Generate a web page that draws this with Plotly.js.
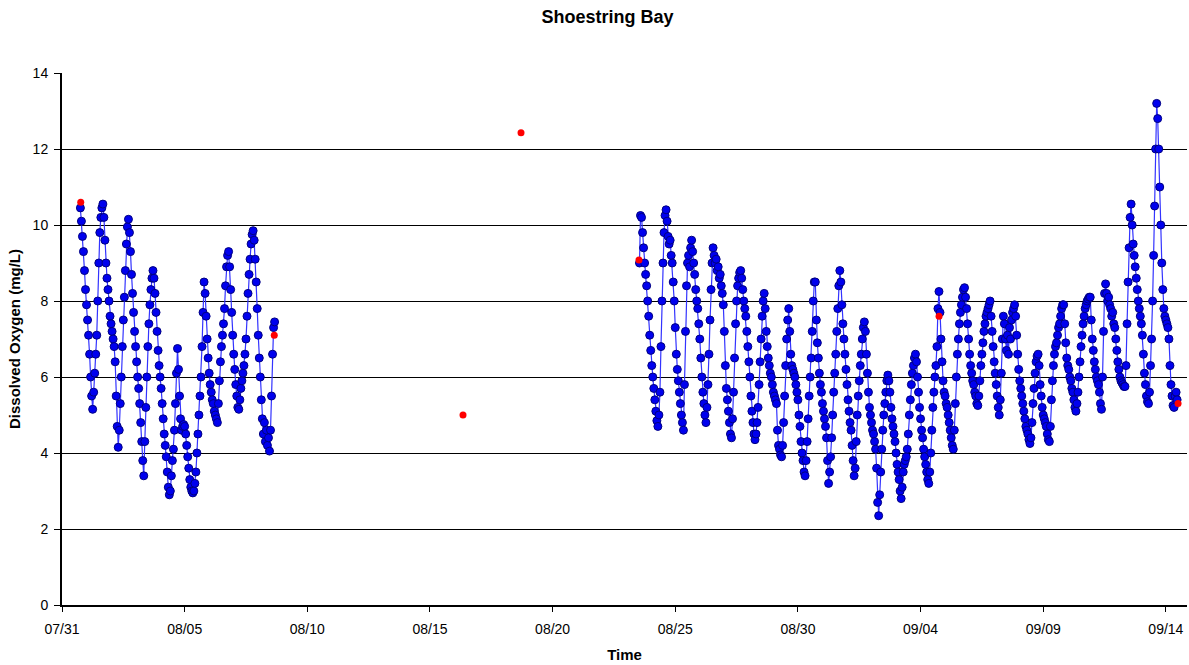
<!DOCTYPE html>
<html>
<head>
<meta charset="utf-8">
<script src="https://cdn.plot.ly/plotly-3.0.1.min.js"></script>
<style>
  html, body { margin: 0; padding: 0; background: #ffffff; }
  #chart { width: 1189px; height: 665px; }
</style>
</head>
<body>
<div id="chart"></div>
<script>
// ---- Data ----
// Continuous sonde record, segment 1: hourly readings starting 2008-07-31 18:00
const seg1Start = [2008, 7, 31, 18];
const seg1DO = [
  10.45, 10.1, 9.7, 9.3, 8.8, 8.3, 7.9, 7.5, 7.1, 6.6, 6.0, 5.5, 5.15,
  5.6, 6.1, 6.6, 7.1, 8.0, 9.0, 9.8, 10.2, 10.45, 10.55,
  10.2, 9.6, 9.0, 8.6, 8.3, 8.0, 7.6, 7.4, 7.2, 7.0, 6.8, 6.4, 5.5, 4.7, 4.15,
  4.6, 5.3, 6.0, 6.8, 7.5, 8.1, 8.8, 9.5, 9.95, 10.15,
  9.8, 9.3, 8.7, 8.2, 7.7, 7.2, 6.8, 6.4, 6.0, 5.7, 5.3, 4.8, 4.3, 3.8, 3.4,
  4.3, 5.2, 6.0, 6.8, 7.4, 7.9, 8.3, 8.6, 8.8,
  8.6, 8.2, 7.7, 7.2, 6.7, 6.3, 6.0, 5.7, 5.3, 4.9, 4.5, 4.2, 3.9, 3.5, 3.1, 2.9,
  3.0, 3.4, 3.8, 4.1, 4.6, 5.3, 6.1, 6.75,
  6.2, 5.5, 4.9, 4.6, 4.7, 4.75, 4.7, 4.5, 4.2, 3.9, 3.6, 3.3, 3.1, 3.0, 2.95,
  3.0, 3.2, 3.5, 4.0, 4.5, 5.0, 5.5, 6.0, 6.8, 7.7, 8.5,
  8.2, 7.6, 7.0, 6.5, 6.1, 5.8, 5.6, 5.4, 5.3, 5.1, 5.0, 4.9, 4.8,
  5.3, 5.9, 6.4, 6.8, 7.1, 7.4, 7.8, 8.4, 8.9, 9.2, 9.3,
  8.9, 8.3, 7.7, 7.1, 6.6, 6.2, 5.8, 5.5, 5.2, 5.15,
  5.4, 5.7, 5.9, 6.1, 6.3, 6.6, 7.0, 7.6, 8.2, 8.7, 9.1, 9.5, 9.75, 9.85,
  9.6, 9.1, 8.5, 7.8, 7.1, 6.5, 6.0, 5.4, 4.9, 4.5, 4.8, 4.3, 4.6, 4.2, 4.4, 4.05,
  4.6, 5.5, 6.6, 7.3, 7.45
];
// Segment 2: hourly readings starting 2008-08-23 13:00
const seg2Start = [2008, 8, 23, 13];
const seg2DO = [
  9.0, 10.25, 10.2,
  9.8, 9.4, 9.0, 8.7, 8.4, 8.0, 7.6, 7.1, 6.7, 6.3, 6.0, 5.7, 5.4, 5.1, 4.85, 4.7,
  5.0, 5.6, 6.8, 8.0, 9.0, 9.8, 10.25, 10.4,
  10.1, 9.7, 9.5, 9.6, 9.2, 9.0, 8.5, 8.0, 7.3, 6.6, 6.2, 5.9, 5.6, 5.3, 5.0, 4.8, 4.6,
  5.8, 7.2, 8.4, 9.0, 9.2, 8.9, 9.4, 9.6, 9.3,
  9.0, 8.7, 8.3, 8.0, 7.8, 7.4, 7.0, 6.5, 6.0, 5.6, 5.3, 5.0, 4.8,
  5.2, 5.8, 6.6, 7.5, 8.3, 9.0, 9.4,
  9.2, 9.0, 9.1, 8.8, 8.9, 8.6, 8.7, 8.4, 8.2, 7.9, 7.2, 6.3, 5.7, 5.4, 5.1, 4.8, 4.5, 4.4,
  4.9, 5.6, 6.5, 7.4, 8.0, 8.4, 8.6, 8.75, 8.8,
  8.6, 8.3, 8.0, 7.8, 7.6, 7.2, 6.8, 6.4, 6.0, 5.5, 5.1, 4.8, 4.5, 4.35,
  4.5, 4.8, 5.2, 5.8, 6.4, 7.0, 7.6, 8.0, 8.2,
  7.8, 7.2, 6.8, 6.5, 6.3, 6.1, 6.0, 5.8, 5.6, 5.5, 5.4, 5.3, 4.6, 4.2, 4.1, 3.95, 3.9,
  4.2, 4.8, 5.5, 6.3, 7.0, 7.5, 7.8,
  7.2, 6.6, 6.3, 6.2, 6.1, 6.0, 5.8, 5.6, 5.4, 5.0, 4.7, 4.3, 4.0, 3.8, 3.5, 3.4,
  3.8, 4.3, 4.9, 5.5, 6.0, 6.5, 7.2, 8.0, 8.5, 8.5,
  7.5, 6.9, 6.5, 6.1, 5.8, 5.6, 5.3, 5.1, 4.9, 4.7, 4.4, 3.8, 3.2,
  3.5, 3.9, 4.4, 5.0, 5.6, 6.1, 6.6, 7.2, 7.8, 8.4, 8.8,
  8.5, 7.9, 7.4, 7.0, 6.6, 6.2, 5.8, 5.4, 5.1, 4.8, 4.6, 4.2, 3.8, 3.4,
  3.6, 4.3, 5.0, 5.5, 5.9, 6.3, 6.6, 7.0, 7.3, 7.45,
  7.2, 6.6, 6.1, 5.6, 5.2, 5.0, 4.8, 4.6, 4.5, 4.3, 4.1, 3.6, 2.7, 2.35,
  2.9, 3.5, 4.1, 4.6, 5.0, 5.3, 5.6, 5.9, 6.05,
  5.9, 5.6, 5.2, 4.9, 4.7, 4.5, 4.3, 4.0, 3.7, 3.5, 3.3, 3.0, 2.8,
  3.1, 3.5, 3.7, 3.8, 3.9, 4.1, 4.5, 5.0, 5.4, 5.8, 6.1, 6.3, 6.5, 6.6,
  6.4, 6.0, 5.6, 5.2, 4.9, 4.6, 4.4, 4.1, 3.9, 3.7, 3.5, 3.3, 3.2,
  3.5, 4.0, 4.6, 5.2, 5.6, 6.0, 6.3, 6.8, 7.8, 8.25,
  7.7, 7.0, 6.4, 5.9, 5.6, 5.5, 5.3, 5.2, 5.0, 4.8, 4.6, 4.4, 4.2, 4.1,
  4.6, 5.3, 6.0, 6.6, 7.0, 7.4, 7.7, 7.9, 8.1, 8.3, 8.35,
  8.1, 7.8, 7.4, 7.0, 6.6, 6.3, 6.1, 5.9, 5.8, 5.6, 5.5, 5.3, 5.25,
  5.5, 5.9, 6.3, 6.6, 6.9, 7.2, 7.4, 7.6, 7.7, 7.8, 7.9, 8.0,
  7.6, 7.2, 6.8, 6.4, 6.1, 5.8, 5.5, 5.2, 5.0,
  5.4, 6.1, 7.0, 7.6, 7.4, 7.0, 6.7, 7.1, 6.6, 7.3, 7.0, 7.5, 7.7, 7.8, 7.9,
  7.6, 7.1, 6.6, 6.2, 5.9, 5.7, 5.5, 5.3, 5.1, 4.9, 4.7, 4.6, 4.5, 4.35, 4.25,
  4.4, 4.8, 5.3, 5.7, 6.1, 6.4, 6.55, 6.6,
  6.3, 5.8, 5.5, 5.2, 5.0, 4.9, 4.8, 4.7, 4.5, 4.35, 4.3,
  4.7, 5.4, 5.9, 6.3, 6.6, 6.8, 6.9, 7.1, 7.3, 7.4, 7.6, 7.8, 7.9, 7.9,
  7.4, 6.9, 6.5, 6.3, 6.2, 6.0, 5.9, 5.7, 5.6, 5.4, 5.2, 5.1,
  5.3, 5.6, 6.0, 6.4, 6.8, 7.1, 7.4, 7.6, 7.8, 7.9, 8.0, 8.05, 8.1, 8.1,
  7.5, 7.0, 6.7, 6.4, 6.2, 6.0, 5.9, 5.8, 5.6, 5.3, 5.15,
  6.0, 7.2, 8.2, 8.45,
  8.2, 8.0, 8.1, 7.9, 7.8, 7.6, 7.7, 7.4, 7.3, 7.0, 6.7, 6.4, 6.2, 6.0, 5.9, 5.85, 5.8, 5.75, 5.75,
  6.3, 7.4, 8.5, 9.4, 10.2, 10.55,
  10.0, 9.5, 9.2, 8.9, 8.6, 8.3, 8.0, 7.8, 7.6, 7.4, 7.1, 6.6, 6.1, 5.8, 5.5, 5.35, 5.3,
  5.6, 6.3, 7.0, 8.0, 9.2, 10.5, 12.0, 13.2,
  12.8, 12.0, 11.0, 10.0, 9.0, 8.3, 7.8, 7.6, 7.5, 7.4, 7.3, 7.0, 6.3, 5.8, 5.5, 5.25, 5.2,
  5.5, 5.6, 5.4
];
// Discrete grab samples (red points)
const grabTimes = ['2008-07-31 18:20', '2008-08-08 15:40', '2008-08-16 08:20', '2008-08-18 17:05',
                   '2008-08-23 12:30', '2008-09-04 18:05', '2008-09-14 11:55'];
const grabDO = [10.6, 7.1, 5.0, 12.43, 9.08, 7.6, 5.3];

// Axis ticks
const tickDates = ['2008-07-31', '2008-08-05', '2008-08-10', '2008-08-15', '2008-08-20',
                   '2008-08-25', '2008-08-30', '2008-09-04', '2008-09-09', '2008-09-14'];
const tickLabels = ['07/31', '08/05', '08/10', '08/15', '08/20', '08/25', '08/30', '09/04', '09/09', '09/14'];

// ---- Build hourly time stamps ----
function pad(n) { return (n < 10 ? '0' : '') + n; }
function hourlyTimes(start, count) {
  const base = Date.UTC(start[0], start[1] - 1, start[2], start[3]);
  const out = [];
  for (let i = 0; i < count; i++) {
    const d = new Date(base + i * 3600000);
    out.push(d.getUTCFullYear() + '-' + pad(d.getUTCMonth() + 1) + '-' + pad(d.getUTCDate()) +
             ' ' + pad(d.getUTCHours()) + ':00');
  }
  return out;
}
const t1 = hourlyTimes(seg1Start, seg1DO.length);
const t2 = hourlyTimes(seg2Start, seg2DO.length);
const contX = t1.concat([null], t2);
const contY = seg1DO.concat([null], seg2DO);

const FONT = 'Liberation Sans, Arial, sans-serif';

const traces = [
  {
    x: contX, y: contY, type: 'scatter', mode: 'lines+markers',
    connectgaps: false,
    line: { color: '#3333ff', width: 1.2 },
    marker: { color: '#0000ee', size: 8, line: { color: '#000080', width: 1 } },
    hoverinfo: 'x+y', showlegend: false
  },
  {
    x: grabTimes, y: grabDO, type: 'scatter', mode: 'markers',
    marker: { color: '#ff0000', size: 7 },
    hoverinfo: 'x+y', showlegend: false
  }
];

const layout = {
  width: 1189, height: 665,
  paper_bgcolor: '#ffffff', plot_bgcolor: '#ffffff',
  margin: { l: 62, r: 2, t: 73, b: 60 },
  font: { family: FONT, color: '#000000', size: 14 },
  title: {
    text: '<b>Shoestring Bay</b>',
    font: { family: FONT, size: 18, color: '#000000' },
    xref: 'container', x: 0.511, xanchor: 'center',
    yref: 'container', y: 0.975, yanchor: 'middle'
  },
  xaxis: {
    type: 'date',
    range: ['2008-07-31 00:00', '2008-09-14 20:40'],
    tickvals: tickDates, ticktext: tickLabels,
    tickfont: { family: FONT, size: 14, color: '#000000' },
    ticks: 'outside', ticklen: 5, tickcolor: '#000000', tickwidth: 1,
    ticklabelstandoff: 5,
    showgrid: false, zeroline: false,
    showline: true, linecolor: '#000000', linewidth: 2,
    title: { text: '<b>Time</b>', font: { family: FONT, size: 15, color: '#000000' }, standoff: 14 }
  },
  yaxis: {
    range: [0, 14], dtick: 2, tick0: 0,
    tickfont: { family: FONT, size: 14, color: '#000000' },
    ticks: 'outside', ticklen: 6, tickcolor: '#000000', tickwidth: 1,
    ticklabelstandoff: 3,
    showgrid: true, gridcolor: '#000000', gridwidth: 1,
    zeroline: false,
    showline: true, linecolor: '#000000', linewidth: 2,
    title: { text: '<b>Dissolved Oxygen (mg/L)</b>', font: { family: FONT, size: 15, color: '#000000' }, standoff: 8 }
  }
};

Plotly.newPlot('chart', traces, layout, { staticPlot: true, displayModeBar: false });
</script>
</body>
</html>
